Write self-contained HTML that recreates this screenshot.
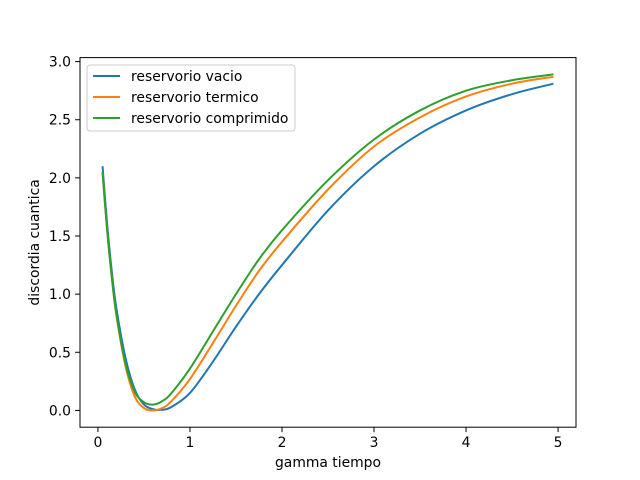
<!DOCTYPE html>
<html><head><meta charset="utf-8"><style>
body{margin:0;background:#fff}
svg{display:block;font-family:"DejaVu Sans","Liberation Sans",sans-serif}
</style></head><body>
<svg id="c" width="640" height="480" viewBox="0 0 640 480"></svg>
<script>
const xs=[0.05,0.1,0.15,0.2,0.3,0.4,0.5,0.6,0.7,0.8,1.0,1.25,1.5,1.75,2,2.5,3,3.5,4,4.5,4.95];
const vacio=[2.1,1.6,1.2,0.88,0.45,0.18,0.05,0.01,0.005,0.03,0.15,0.42,0.72,1.0,1.25,1.72,2.1,2.38,2.58,2.72,2.81];
const termico=[2.05,1.55,1.15,0.82,0.38,0.12,0.02,0.0,0.02,0.08,0.27,0.58,0.9,1.2,1.45,1.9,2.27,2.52,2.7,2.81,2.87];
const comprimido=[2.05,1.55,1.15,0.83,0.4,0.16,0.07,0.05,0.08,0.15,0.36,0.68,1.0,1.3,1.55,1.98,2.33,2.58,2.75,2.84,2.89];
const xTicks=[0,1,2,3,4,5];
const yTicks=[0.0,0.5,1.0,1.5,2.0,2.5,3.0];
const seriesNames=["reservorio vacio","reservorio termico","reservorio comprimido"];
const colors=["#1f77b4","#ff7f0e","#2ca02c"];

const L=80,R=576,T=57.6,B=427.2,FS=13.9;
const xmin=-0.195,xmax=5.195,ymin=-0.1445,ymax=3.0345;
const X=v=>L+(v-xmin)/(xmax-xmin)*(R-L);
const Y=v=>B-(v-ymin)/(ymax-ymin)*(B-T);
const svg=document.getElementById('c');
const NS="http://www.w3.org/2000/svg";
function mk(t,a,p){const e=document.createElementNS(NS,t);for(const k in a)e.setAttribute(k,a[k]);(p||svg).appendChild(e);return e;}

function path(ys){
  const p=xs.map((x,i)=>[X(x),Y(ys[i])]);
  let d="M"+p[0][0]+","+p[0][1];
  for(let i=0;i<p.length-1;i++){
    const p0=p[i-1]||p[i],p1=p[i],p2=p[i+1],p3=p[i+2]||p2;
    const c1=[p1[0]+(p2[0]-p0[0])/6,p1[1]+(p2[1]-p0[1])/6];
    const c2=[p2[0]-(p3[0]-p1[0])/6,p2[1]-(p3[1]-p1[1])/6];
    d+=` C${c1[0]},${c1[1]} ${c2[0]},${c2[1]} ${p2[0]},${p2[1]}`;
  }
  return d;
}
[vacio,termico,comprimido].forEach((s,i)=>{
  const e=mk('path',{d:path(s),fill:'none',stroke:colors[i],'stroke-width':2});
  
  
});
const frame=mk('rect',{x:L,y:T,width:R-L,height:B-T,fill:'none',stroke:'#000','stroke-width':1});


xTicks.forEach(v=>{
  mk('line',{x1:X(v),x2:X(v),y1:B,y2:B+4.9,stroke:'#000','stroke-width':1});
  const t=mk('text',{x:X(v),y:B+20,'font-size':FS,'text-anchor':'middle'});t.textContent=v;
  
  
});
yTicks.forEach(v=>{
  mk('line',{x1:L-4.9,x2:L,y1:Y(v),y2:Y(v),stroke:'#000','stroke-width':1});
  const t=mk('text',{x:L-9,y:Y(v)+5,'font-size':FS,'text-anchor':'end'});t.textContent=v.toFixed(1);
  
  
});
const xl=mk('text',{x:(L+R)/2,y:467,'font-size':FS,'text-anchor':'middle'});xl.textContent='gamma tiempo';


const yl=mk('text',{x:0,y:0,'font-size':FS,'text-anchor':'middle',transform:`translate(39,${(T+B)/2}) rotate(-90)`});yl.textContent='discordia cuantica';


const lg=mk('g',{});


mk('rect',{x:87,y:65,width:208,height:66,rx:3,fill:'#fff','fill-opacity':0.8,stroke:'#ccc'},lg);
seriesNames.forEach((n,i)=>{
  const y=76+i*21;
  mk('line',{x1:93,x2:120,y1:y,y2:y,stroke:colors[i],'stroke-width':2},lg);
  const t=mk('text',{x:131,y:y+5,'font-size':FS},lg);t.textContent=n;
  
  
});
</script>
</body></html>
